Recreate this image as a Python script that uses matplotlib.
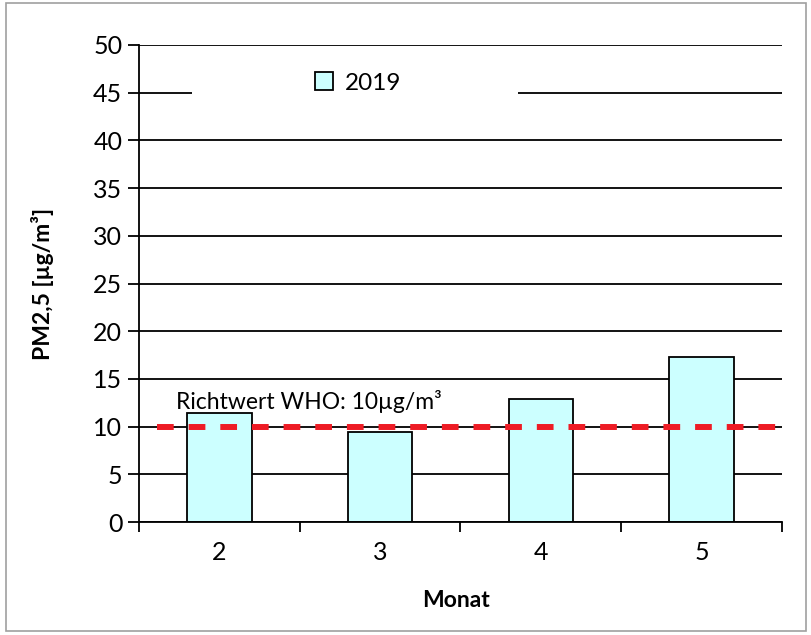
import numpy as np
import matplotlib
matplotlib.use("Agg")
import matplotlib.pyplot as plt
from matplotlib.patches import Rectangle

# Daten
monate = ["2", "3", "4", "5"]
pm25_2019 = [11.4, 9.4, 12.9, 17.3]
richtwert = 10
jahr = "2019"

plt.rcParams['font.family'] = ['Lato', 'DejaVu Sans']

fig = plt.figure(figsize=(8.12, 6.35), dpi=100)
ax = fig.add_axes([139/812, 1 - 522/635, 643/812, 477/635])

x = np.arange(len(monate))
ax.bar(x, pm25_2019, width=0.4, color="#CCFFFF", edgecolor="black",
       linewidth=1.3, zorder=3, label=jahr)

# WHO-Richtwert
ax.axhline(richtwert, xmin=0.028, xmax=1, color="#EE1C25", lw=4.3,
           linestyle=(0, (2.8, 2.5)), zorder=4)
ax.text(-0.27, 11.85, "Richtwert WHO: 10µg/m³", fontsize=16.5,
        va="baseline", zorder=5)

ax.set_xlim(-0.5, 3.5)
ax.set_ylim(0, 50)
ax.set_yticks(np.arange(0, 51, 5))
ax.set_xticks(x)
ax.set_xticklabels(monate)
ax.set_xticks(np.arange(-0.5, 3.6, 1), minor=True)
ax.tick_params(axis="x", which="major", length=0, labelsize=18, pad=14)
ax.tick_params(axis="x", which="minor", length=7, width=1.3, direction="out")
ax.tick_params(axis="y", length=8, width=1.3, labelsize=18, pad=4)

ax.grid(axis="y", color="black", lw=1.3, zorder=1)
ax.set_axisbelow(True)
for s in ["top", "right"]:
    ax.spines[s].set_visible(False)
for s in ["left", "bottom"]:
    ax.spines[s].set_linewidth(1.3)
    ax.spines[s].set_zorder(6)

ax.set_ylabel("PM2,5 [µg/m³]", fontsize=16.5, fontweight="bold")
ax.set_xlabel("Monat", fontsize=16.5, fontweight="bold")
ax.yaxis.set_label_coords(-0.132, 0.5)
ax.xaxis.set_label_coords(0.493, -0.143)

# Legende mit weißem Hintergrund über der Gitterlinie
ax.add_patch(Rectangle(((192-139)/643, (522-100)/477), (518-192)/643, 30/477,
                       transform=ax.transAxes, facecolor="white",
                       edgecolor="none", zorder=2))
leg = ax.legend(loc="center", bbox_to_anchor=((358-139)/643, (522-83)/477),
                frameon=False, fontsize=17.5, handlelength=0.75,
                handleheight=0.75, handletextpad=0.45)

# Rahmen um die Grafik
fig.patches.append(Rectangle((6/812, 4/635), 800/812, 628/635,
                             transform=fig.transFigure, fill=False,
                             edgecolor="#A0A0A0", lw=1.2))

fig.savefig("out.png", dpi=100)
